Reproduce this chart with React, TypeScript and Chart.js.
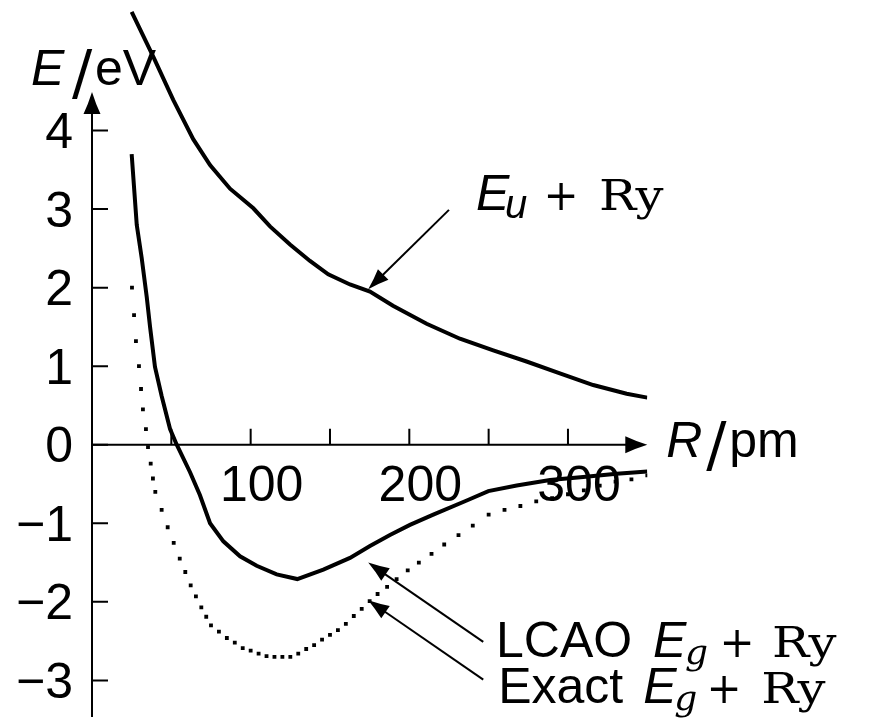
import React, { useEffect, useRef } from "react";
import { Chart, registerables } from "chart.js";

Chart.register(...registerables);

// ---- data (R in pm, E in eV) ----
const euR = [25, 38.6, 51.2, 63.8, 74.4, 87, 101.7, 112.2, 124.8, 137.4, 148.9, 162.6, 175.2, 189.7, 210.9, 231.9, 252.9, 273.9, 294.9, 315.9, 337, 350];
const euE = [5.51, 4.94, 4.39, 3.89, 3.56, 3.26, 3.01, 2.78, 2.55, 2.34, 2.17, 2.04, 1.95, 1.77, 1.54, 1.35, 1.2, 1.06, 0.91, 0.76, 0.65, 0.6];

const lcaoR = [25, 28.2, 31.3, 34.5, 36.6, 39.7, 43.9, 49.2, 53.4, 61.8, 68, 74.4, 82.8, 93.3, 103.8, 116.4, 129.4, 145.8, 162.6, 175.2, 187.8, 200.4, 215.1, 236.2, 249.8, 267.7, 288.7, 309.6, 330.7, 350];
const lcaoE = [3.7, 2.8, 2.38, 1.88, 1.5, 0.99, 0.62, 0.2, 0, -0.35, -0.64, -1, -1.23, -1.42, -1.54, -1.65, -1.71, -1.59, -1.44, -1.29, -1.15, -1.02, -0.89, -0.71, -0.59, -0.52, -0.45, -0.41, -0.37, -0.34];

// exact curve: plotted as dot marks, one per tabulated sample
const exactR = [25.2, 26.5, 27.7, 29.6, 30.9, 32.1, 34, 35.3, 37, 38.4, 39.9, 43.9, 47.7, 51.5, 55.3, 58.8, 62.2, 65.5, 68.9, 72, 75, 80, 85, 90, 95, 100, 105, 110, 115, 120, 125, 130, 135, 140, 145, 150, 155, 160, 165, 170, 175, 180, 186, 192, 199, 206, 214, 222, 231, 240, 250, 260, 270, 280, 290, 300, 310, 320, 330, 340, 350];
const exactE = [2.0, 1.65, 1.32, 1.0, 0.71, 0.45, 0.2, -0.03, -0.24, -0.43, -0.6, -0.83, -1.05, -1.25, -1.45, -1.62, -1.79, -1.93, -2.07, -2.19, -2.3, -2.38, -2.46, -2.52, -2.59, -2.62, -2.66, -2.69, -2.7, -2.7, -2.7, -2.66, -2.6, -2.55, -2.48, -2.42, -2.36, -2.28, -2.18, -2.09, -1.99, -1.9, -1.81, -1.71, -1.6, -1.5, -1.39, -1.27, -1.15, -1.03, -0.89, -0.83, -0.78, -0.72, -0.68, -0.63, -0.58, -0.52, -0.47, -0.44, -0.39];

// ---- axes ----
const xTickValues = [50, 100, 150, 200, 250, 300];
const xTickLabels = ["", "100", "", "200", "", "300"];
const yTickValues = [-3, -2, -1, 0, 1, 2, 3, 4];
const yTickLabels = ["\u22123", "\u22122", "\u22121", "0", "1", "2", "3", "4"];
const xAxisEnd = 350;
const yAxisEnd = 4.49;

// ---- annotations: [tailR, tailE, tipR, tipE] and label anchors [R, E] ----
const euArrow = [225, 2.99, 174.1, 1.98];
const lcaoArrow = [246.6, -2.51, 174.1, -1.5];
const exactArrow = [246.6, -2.99, 174.1, -1.98];
const euLabelAt = [243.3, 2.99];
const lcaoLabelAt = [257.2, -2.7];
const exactLabelAt = [258.5, -3.29];

const SANS = '"Liberation Sans", Arial, sans-serif';
const SERIF = '"DejaVu Serif", serif';
const SLASH = '"DejaVu Sans", sans-serif';

function toPts(xs: number[], ys: number[]) {
  return xs.map((x, i) => ({ x, y: ys[i] }));
}

function head(ctx: CanvasRenderingContext2D, tx: number, ty: number, fx: number, fy: number, len: number, half: number) {
  const a = Math.atan2(ty - fy, tx - fx);
  const c = Math.cos(a), s = Math.sin(a);
  const bx = tx - len * c, by = ty - len * s;
  const px = -s, py = c;
  ctx.beginPath();
  ctx.moveTo(tx, ty);
  ctx.quadraticCurveTo(tx - len * 0.55 * c + px * half * 0.45, ty - len * 0.55 * s + py * half * 0.45, bx + px * half, by + py * half);
  ctx.lineTo(bx - px * half, by - py * half);
  ctx.quadraticCurveTo(tx - len * 0.55 * c - px * half * 0.45, ty - len * 0.55 * s - py * half * 0.45, tx, ty);
  ctx.closePath();
  ctx.fill();
}

function txt(ctx: CanvasRenderingContext2D, s: string, x: number, y: number, font: string, align: CanvasTextAlign = "left", sx = 1) {
  ctx.save();
  ctx.font = font;
  ctx.textAlign = align;
  ctx.textBaseline = "alphabetic";
  ctx.translate(x, y);
  ctx.scale(sx, 1);
  ctx.fillText(s, 0, 0);
  ctx.restore();
}

const decorPlugin = {
  id: "decor",
  beforeDatasetsDraw(chart: any) {
    const { ctx, scales } = chart;
    const xs = scales.x, ys = scales.y;
    const ax = xs.getPixelForValue(0);
    const ay = ys.getPixelForValue(0);
    const xEnd = xs.getPixelForValue(xAxisEnd);
    const yEnd = ys.getPixelForValue(yAxisEnd);
    ctx.save();
    ctx.fillStyle = "#000";
    ctx.strokeStyle = "#000";
    ctx.lineWidth = 2;
    ctx.lineCap = "butt";
    // axes lines
    ctx.beginPath();
    ctx.moveTo(ax, chart.chartArea.bottom);
    ctx.lineTo(ax, yEnd + 15);
    ctx.moveTo(ax, ay);
    ctx.lineTo(xEnd - 15, ay);
    ctx.stroke();
    head(ctx, ax, yEnd, ax, yEnd + 50, 22, 8.5);
    head(ctx, xEnd, ay, xEnd - 50, ay, 22, 8.5);
    // ticks
    ctx.beginPath();
    xTickValues.forEach((v) => {
      const p = xs.getPixelForValue(v);
      ctx.moveTo(p, ay);
      ctx.lineTo(p, ay - 16);
    });
    yTickValues.forEach((v) => {
      const p = ys.getPixelForValue(v);
      ctx.moveTo(ax, p);
      ctx.lineTo(ax + 16, p);
    });
    ctx.stroke();
    // tick labels
    xTickValues.forEach((v, i) => {
      if (!xTickLabels[i]) return;
      txt(ctx, xTickLabels[i], xs.getPixelForValue(v) + 11, ay + 56, `50px ${SANS}`, "center");
    });
    yTickValues.forEach((v, i) => {
      txt(ctx, yTickLabels[i], ax - 19, ys.getPixelForValue(v) + 17.5, `50px ${SANS}`, "right");
    });
    // axis titles
    txt(ctx, "E", ax - 61, yEnd - 7, `italic 50px ${SANS}`);
    txt(ctx, "/", ax - 20, yEnd + 1, `60px ${SLASH}`);
    txt(ctx, "eV", ax + 3, yEnd - 7, `50px ${SANS}`);
    txt(ctx, "R", xEnd + 19, ay + 12, `italic 50px ${SANS}`);
    txt(ctx, "/", xEnd + 59, ay + 20, `60px ${SLASH}`);
    txt(ctx, "pm", xEnd + 82, ay + 12, `50px ${SANS}`);
    ctx.restore();
  },
  afterDatasetsDraw(chart: any) {
    const { ctx, scales } = chart;
    const xs = scales.x, ys = scales.y;
    ctx.save();
    ctx.fillStyle = "#000";
    ctx.strokeStyle = "#000";
    ctx.lineWidth = 2;
    [euArrow, lcaoArrow, exactArrow].forEach((a) => {
      const fx = xs.getPixelForValue(a[0]), fy = ys.getPixelForValue(a[1]);
      const tx = xs.getPixelForValue(a[2]), ty = ys.getPixelForValue(a[3]);
      const d = Math.hypot(tx - fx, ty - fy);
      const ex = tx - ((tx - fx) / d) * 15, ey = ty - ((ty - fy) / d) * 15;
      ctx.beginPath();
      ctx.moveTo(fx, fy);
      ctx.lineTo(ex, ey);
      ctx.stroke();
      head(ctx, tx, ty, fx, fy, 21, 7.5);
    });
    const plus = `42px ${SERIF}`;
    const ry = `42px ${SERIF}`;
    // E_u + Ry
    {
      const x = xs.getPixelForValue(euLabelAt[0]), y = ys.getPixelForValue(euLabelAt[1]);
      txt(ctx, "E", x - 2, y, `italic 50px ${SANS}`);
      txt(ctx, "u", x + 27, y + 8, `italic 40px ${SANS}`);
      txt(ctx, "+", x + 83, y, plus, "center");
      txt(ctx, "Ry", x + 121, y, ry, "left", 1.18);
    }
    // LCAO E_g + Ry
    {
      const x = xs.getPixelForValue(lcaoLabelAt[0]), y = ys.getPixelForValue(lcaoLabelAt[1]);
      txt(ctx, "LCAO", x - 4, y, `50px ${SANS}`);
      txt(ctx, "E", x + 153, y, `italic 50px ${SANS}`);
      txt(ctx, "g", x + 185, y + 7, `italic 36px ${SERIF}`);
      txt(ctx, "+", x + 237, y, plus, "center");
      txt(ctx, "Ry", x + 272, y, ry, "left", 1.18);
    }
    // Exact E_g + Ry
    {
      const x = xs.getPixelForValue(exactLabelAt[0]), y = ys.getPixelForValue(exactLabelAt[1]);
      txt(ctx, "Exact", x - 4, y, `50px ${SANS}`);
      txt(ctx, "E", x + 141, y, `italic 50px ${SANS}`);
      txt(ctx, "g", x + 172, y + 7, `italic 36px ${SERIF}`);
      txt(ctx, "+", x + 222, y, plus, "center");
      txt(ctx, "Ry", x + 259, y, ry, "left", 1.18);
    }
    ctx.restore();
  },
};

export default function App() {
  const ref = useRef<HTMLCanvasElement | null>(null);
  useEffect(() => {
    if (!ref.current) return;
    const chart = new Chart(ref.current, {
      type: "line",
      data: {
        datasets: [
          {
            label: "E_u + Ry",
            data: toPts(euR, euE),
            borderColor: "#000",
            borderWidth: 4,
            pointRadius: 0,
            tension: 0,
            fill: false,
          },
          {
            label: "LCAO E_g + Ry",
            data: toPts(lcaoR, lcaoE),
            borderColor: "#000",
            borderWidth: 4,
            pointRadius: 0,
            tension: 0,
            fill: false,
          },
          {
            label: "Exact E_g + Ry",
            data: toPts(exactR, exactE),
            showLine: false,
            pointStyle: "rect",
            pointRadius: 2.7,
            pointBorderWidth: 0,
            pointBackgroundColor: "#000",
            borderColor: "#000",
            fill: false,
          },
        ],
      },
      options: {
        animation: false,
        responsive: false,
        devicePixelRatio: 1,
        events: [],
        layout: { padding: { left: 92, right: 238.7, top: 0, bottom: 0 } },
        scales: {
          x: { type: "linear", min: 0, max: 350, display: false },
          y: { type: "linear", min: -3.466, max: 5.611, display: false },
        },
        plugins: { legend: { display: false }, tooltip: { enabled: false } },
      },
      plugins: [decorPlugin],
    });
    return () => chart.destroy();
  }, []);
  return (
    <div style={{ position: "fixed", left: 0, top: 0, width: 886, height: 721, background: "#fff" }}>
      <canvas ref={ref} width={886} height={721} style={{ display: "block", width: 886, height: 721 }} />
    </div>
  );
}
